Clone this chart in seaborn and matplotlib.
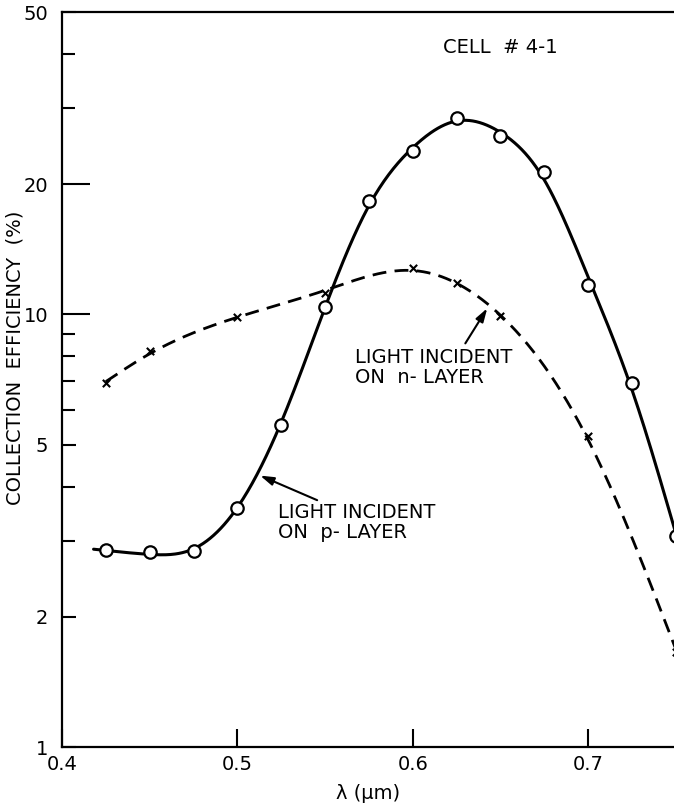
import numpy as np
import pandas as pd
import matplotlib
matplotlib.use("Agg")
import matplotlib.pyplot as plt
import seaborn as sns
from matplotlib.ticker import FixedLocator, NullFormatter, FuncFormatter

# ---- data ----
p_wavelength = [0.425, 0.45, 0.475, 0.50, 0.525, 0.55, 0.575, 0.60, 0.625, 0.65, 0.675, 0.70, 0.725, 0.75]
p_efficiency = [2.85, 2.82, 2.84, 3.56, 5.55, 10.4, 18.3, 23.8, 28.4, 25.8, 21.3, 11.7, 6.93, 3.07]
n_wavelength = [0.425, 0.45, 0.50, 0.55, 0.60, 0.625, 0.65, 0.70, 0.75]
n_efficiency = [6.93, 8.21, 9.84, 11.2, 12.8, 11.8, 9.9, 5.23, 1.66]

y_major = [1, 2, 5, 10, 20, 50]
y_minor = [3, 4, 6, 7, 8, 9, 30, 40]
x_major = [0.4, 0.5, 0.6, 0.7]


def smooth_curve(x, y, x0, x1, lam, n=500):
    """Penalised (smoothing-spline like) fit of y(x) on a dense grid."""
    x = np.asarray(x, float)
    y = np.asarray(y, float)
    g = np.linspace(x0, x1, n)
    dx = g[1] - g[0]
    B = np.zeros((len(x), n))
    for i, xv in enumerate(x):
        k = min(int((xv - x0) / dx), n - 2)
        t = (xv - g[k]) / dx
        B[i, k] = 1 - t
        B[i, k + 1] = t
    D = np.zeros((n - 2, n))
    for i in range(n - 2):
        D[i, i:i + 3] = [1, -2, 1]
    D = D / dx**2
    A = B.T @ B + lam * dx * (D.T @ D)
    f = np.linalg.solve(A, B.T @ y)
    return g, f


sns.set_style("ticks")
plt.rcParams["font.family"] = ["DejaVu Sans"]
for key in ["text.color", "axes.labelcolor", "xtick.color", "ytick.color", "axes.edgecolor"]:
    plt.rcParams[key] = "black"

fig = plt.figure(figsize=(6.74, 8.05), dpi=100)
ax = fig.add_axes([62 / 674, 58 / 805, (674 - 62) / 674, (747 - 12) / 805])

# smooth fitted curves (log space) through the read points
xs_p, fp = smooth_curve(p_wavelength, np.log10(p_efficiency), p_wavelength[0] - 0.007,
                        p_wavelength[-1], 1e-6)
xs_n, fn = smooth_curve(n_wavelength, np.log10(n_efficiency), n_wavelength[0],
                        n_wavelength[-1], 3e-6)
ys_p = 10 ** fp
ys_n = 10 ** fn

sns.lineplot(x=xs_p, y=ys_p, color="black", linewidth=2.2, ax=ax, sort=False, zorder=2)
sns.lineplot(x=xs_n, y=ys_n, color="black", linewidth=2.0, ax=ax, sort=False,
             linestyle=(0, (5, 3)), zorder=2)

sns.scatterplot(x=p_wavelength, y=p_efficiency, marker="o", s=80, facecolor="white",
                edgecolor="black", linewidth=1.6, ax=ax, zorder=3)
sns.scatterplot(x=n_wavelength, y=n_efficiency, marker="x", s=28, color="black",
                linewidth=1.5, ax=ax, zorder=3)

ax.set_yscale("log")
ax.set_ylim(1, 50)
ax.set_xlim(0.4, 0.749)

ax.yaxis.set_major_locator(FixedLocator(y_major))
ax.yaxis.set_major_formatter(FuncFormatter(lambda v, p: f"{v:g}"))
ax.yaxis.set_minor_locator(FixedLocator(y_minor))
ax.yaxis.set_minor_formatter(NullFormatter())
ax.xaxis.set_major_locator(FixedLocator(x_major))
ax.xaxis.set_major_formatter(FuncFormatter(lambda v, p: f"{v:.1f}"))
ax.xaxis.set_minor_locator(FixedLocator([]))

ax.tick_params(axis="y", which="major", direction="in", length=10, width=1.5,
               labelsize=14, pad=10, right=False, colors="black")
ax.tick_params(axis="y", which="minor", direction="in", length=9, width=1.5, right=False)
ax.tick_params(axis="x", which="major", direction="in", length=13, width=1.5,
               labelsize=14, pad=6, top=False, colors="black")

for t, v in zip(ax.yaxis.get_major_ticks(), y_major):
    if v in (10, 20):
        t.tick1line.set_markersize(20)

for side in ["left", "bottom", "top"]:
    ax.spines[side].set_linewidth(1.6)
    ax.spines[side].set_color("black")
ax.spines["right"].set_visible(False)

ax.set_xlabel("")
ax.set_ylabel("")
fig.text(15 / 674, 1 - 358 / 805, "COLLECTION  EFFICIENCY  (%)", rotation=90,
         ha="center", va="center", fontsize=14)
fig.text(368 / 674, 1 - 793 / 805, "λ (μm)", ha="center", va="center", fontsize=14)

ax.text(0.650, 41.4, "CELL  # 4-1", ha="center", va="center", fontsize=14)
ax.text(0.567, 8.35, "LIGHT INCIDENT\nON  n- LAYER", ha="left", va="top",
        fontsize=14, linespacing=1.05)
ax.text(0.523, 3.66, "LIGHT INCIDENT\nON  p- LAYER", ha="left", va="top",
        fontsize=14, linespacing=1.05)

arrow = dict(arrowstyle="-|>,head_length=0.8,head_width=0.25", color="black",
             lw=1.5, shrinkA=0, shrinkB=0)
ax.annotate("", xy=(0.6425, 10.33), xytext=(0.630, 8.57), arrowprops=arrow)
ax.annotate("", xy=(0.513, 4.24), xytext=(0.5455, 3.72), arrowprops=arrow)

fig.savefig("out.png", dpi=100, facecolor="white")
